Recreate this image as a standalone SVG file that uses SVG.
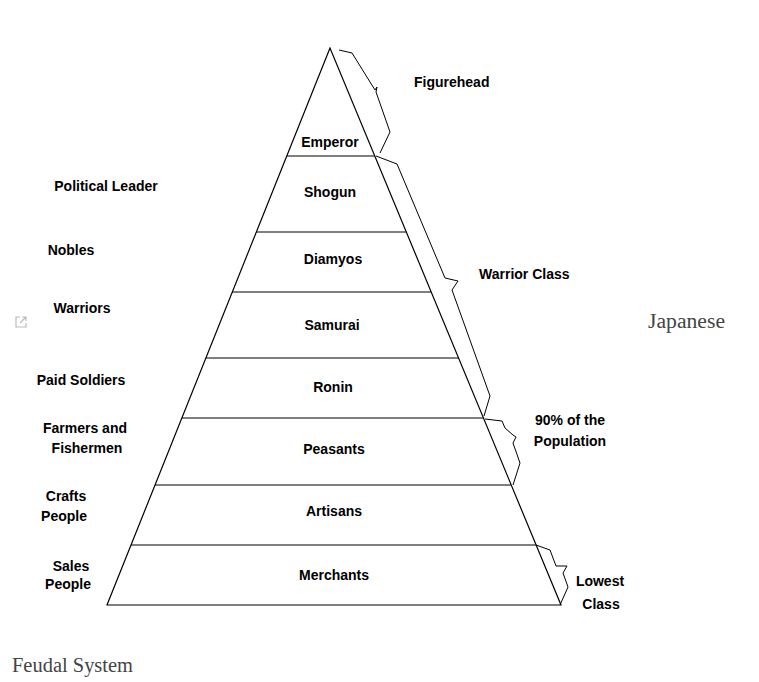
<svg xmlns="http://www.w3.org/2000/svg" width="759" height="682" viewBox="0 0 759 682">
<style>
.ln{fill:none;stroke:#000;stroke-width:1.2}
.br{fill:none;stroke:#000;stroke-width:1}
.t{font-family:"Liberation Sans",Arial,sans-serif;font-weight:bold;font-size:14px;fill:#000}
.c{text-anchor:middle}
.s{font-family:"Liberation Serif","Times New Roman",serif;font-size:20px;fill:#444}
</style>
<rect width="759" height="682" fill="#fff"/>
<g id="pyramid">
<path class="ln" d="M330,48 L107,605 L561,605 Z"/>
</g>
<g id="tier-lines">
<line class="ln" x1="287" y1="156" x2="375" y2="156"/>
<line class="ln" x1="256" y1="232" x2="406" y2="232"/>
<line class="ln" x1="232" y1="292" x2="431" y2="292"/>
<line class="ln" x1="206" y1="358" x2="459" y2="358"/>
<line class="ln" x1="182" y1="418" x2="484" y2="418" stroke-width="1.8"/>
<line class="ln" x1="155" y1="485" x2="511" y2="485" stroke-width="1.6"/>
<line class="ln" x1="131" y1="545" x2="536" y2="545"/>
</g>
<g id="brackets">
<path class="br" d="M339,50 L352,53 L375,90 L377,87 L376,92 L390,132 L380,153"/>
<path class="br" d="M376,156 L397,164 L445,278 L458,281 L452,290 L490,396 L484,416"/>
<path class="br" d="M485,419 L502,421 L505,428 L513,435 L516,437 L513,443 L520,463 L513,485"/>
<path class="br" d="M536,545 L550,550 L556,566 L567,566 L563,573 L568,587 L560,605"/>
</g>
<g id="emperor"><text class="t c" x="330" y="147">Emperor</text></g>
<g id="shogun"><text class="t c" x="330" y="197">Shogun</text></g>
<g id="diamyos"><text class="t c" x="333" y="264">Diamyos</text></g>
<g id="samurai"><text class="t c" x="332" y="330">Samurai</text></g>
<g id="ronin"><text class="t c" x="333" y="392">Ronin</text></g>
<g id="peasants"><text class="t c" x="334" y="454">Peasants</text></g>
<g id="artisans"><text class="t c" x="334" y="516">Artisans</text></g>
<g id="merchants"><text class="t c" x="334" y="580">Merchants</text></g>
<g id="left-labels">
<text class="t c" x="106" y="191">Political Leader</text>
<text class="t c" x="71" y="255">Nobles</text>
<text class="t c" x="82" y="313">Warriors</text>
<text class="t c" x="81" y="385">Paid Soldiers</text>
<text class="t c" x="85" y="433">Farmers and</text>
<text class="t c" x="87" y="453">Fishermen</text>
<text class="t c" x="66" y="501">Crafts</text>
<text class="t c" x="64" y="521">People</text>
<text class="t c" x="71" y="571">Sales</text>
<text class="t c" x="68" y="589">People</text>
</g>
<g id="right-labels">
<text class="t" x="414" y="87">Figurehead</text>
<text class="t" x="479" y="279">Warrior Class</text>
<text class="t c" x="570" y="425">90% of the</text>
<text class="t c" x="570" y="446">Population</text>
<text class="t c" x="600" y="586">Lowest</text>
<text class="t c" x="601" y="609">Class</text>
</g>
<g id="icon" fill="none" stroke="#bbb" stroke-width="1.2">
<path d="M20,317 H16 V327 H26 V323"/>
<path d="M20,323 L26,317 M22,317 H26 V321"/>
</g>
<text class="s" x="648" y="328" textLength="77" lengthAdjust="spacingAndGlyphs">Japanese</text>
<text class="s" x="12" y="672" fill="#333" textLength="121" lengthAdjust="spacingAndGlyphs">Feudal System</text>
</svg>
